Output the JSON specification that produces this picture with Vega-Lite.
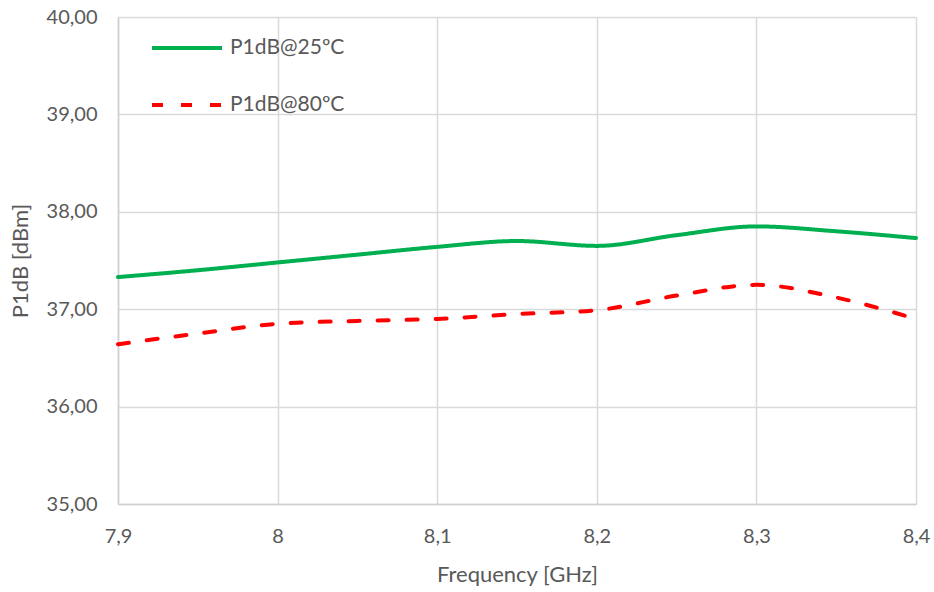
{
  "$schema": "https://vega.github.io/schema/vega-lite/v6.json",
  "autosize": "none",
  "width": 798,
  "height": 487,
  "padding": {"left": 118, "top": 17, "right": 18, "bottom": 88},
  "background": "white",
  "config": {
    "locale": {"number": {"decimal": ",", "thousands": ".", "grouping": [3], "currency": ["", " €"]}},
    "font": "Lato",
    "view": {"stroke": null},
    "axis": {
      "gridColor": "#d9d9d9",
      "gridWidth": 1.5,
      "domainColor": "#d0d0d0",
      "domainWidth": 1.5,
      "ticks": false,
      "labelColor": "#595959",
      "labelFontSize": 20,
      "titleColor": "#595959",
      "titleFontSize": 22,
      "titleFontWeight": "normal"
    }
  },
  "data": {
    "values": [
      {"f": 7.9, "p": 37.33, "s": "P1dB@25ºC"},
      {"f": 7.95, "p": 37.40, "s": "P1dB@25ºC"},
      {"f": 8.0, "p": 37.48, "s": "P1dB@25ºC"},
      {"f": 8.05, "p": 37.56, "s": "P1dB@25ºC"},
      {"f": 8.1, "p": 37.64, "s": "P1dB@25ºC"},
      {"f": 8.15, "p": 37.70, "s": "P1dB@25ºC"},
      {"f": 8.2, "p": 37.65, "s": "P1dB@25ºC"},
      {"f": 8.25, "p": 37.76, "s": "P1dB@25ºC"},
      {"f": 8.3, "p": 37.85, "s": "P1dB@25ºC"},
      {"f": 8.35, "p": 37.80, "s": "P1dB@25ºC"},
      {"f": 8.4, "p": 37.73, "s": "P1dB@25ºC"},
      {"f": 7.9, "p": 36.64, "s": "P1dB@80ºC"},
      {"f": 7.95, "p": 36.75, "s": "P1dB@80ºC"},
      {"f": 8.0, "p": 36.85, "s": "P1dB@80ºC"},
      {"f": 8.05, "p": 36.88, "s": "P1dB@80ºC"},
      {"f": 8.1, "p": 36.90, "s": "P1dB@80ºC"},
      {"f": 8.15, "p": 36.95, "s": "P1dB@80ºC"},
      {"f": 8.2, "p": 36.99, "s": "P1dB@80ºC"},
      {"f": 8.25, "p": 37.14, "s": "P1dB@80ºC"},
      {"f": 8.3, "p": 37.25, "s": "P1dB@80ºC"},
      {"f": 8.35, "p": 37.12, "s": "P1dB@80ºC"},
      {"f": 8.4, "p": 36.90, "s": "P1dB@80ºC"}
    ]
  },
  "mark": {"type": "line", "interpolate": "monotone", "strokeWidth": 4, "strokeCap": "round"},
  "encoding": {
    "x": {
      "field": "f", "type": "quantitative",
      "scale": {"domain": [7.9, 8.4], "nice": false, "zero": false},
      "axis": {"values": [7.9, 8.0, 8.1, 8.2, 8.3, 8.4], "format": "~g", "title": "Frequency [GHz]", "labelPadding": 22, "titlePadding": 18, "labelFlush": false, "labelBound": false, "labelOverlap": false}
    },
    "y": {
      "field": "p", "type": "quantitative",
      "scale": {"domain": [35, 40], "nice": false, "zero": false},
      "axis": {"values": [35, 36, 37, 38, 39, 40], "format": ".2f", "title": "P1dB [dBm]", "labelPadding": 21, "titlePadding": 14}
    },
    "color": {
      "field": "s", "type": "nominal",
      "scale": {"domain": ["P1dB@25ºC", "P1dB@80ºC"], "range": ["#00b050", "#ff0000"]},
      "legend": {
        "title": null, "orient": "none", "legendX": 32, "legendY": -6,
        "symbolType": "stroke", "symbolSize": 4900, "symbolStrokeWidth": 4,
        "labelFontSize": 21, "labelColor": "#595959", "rowPadding": 10, "labelOffset": 6
      }
    },
    "strokeDash": {
      "field": "s", "type": "nominal",
      "scale": {"domain": ["P1dB@25ºC", "P1dB@80ºC"], "range": [[1, 0], [11, 18]]},
      "legend": null
    }
  }
}
